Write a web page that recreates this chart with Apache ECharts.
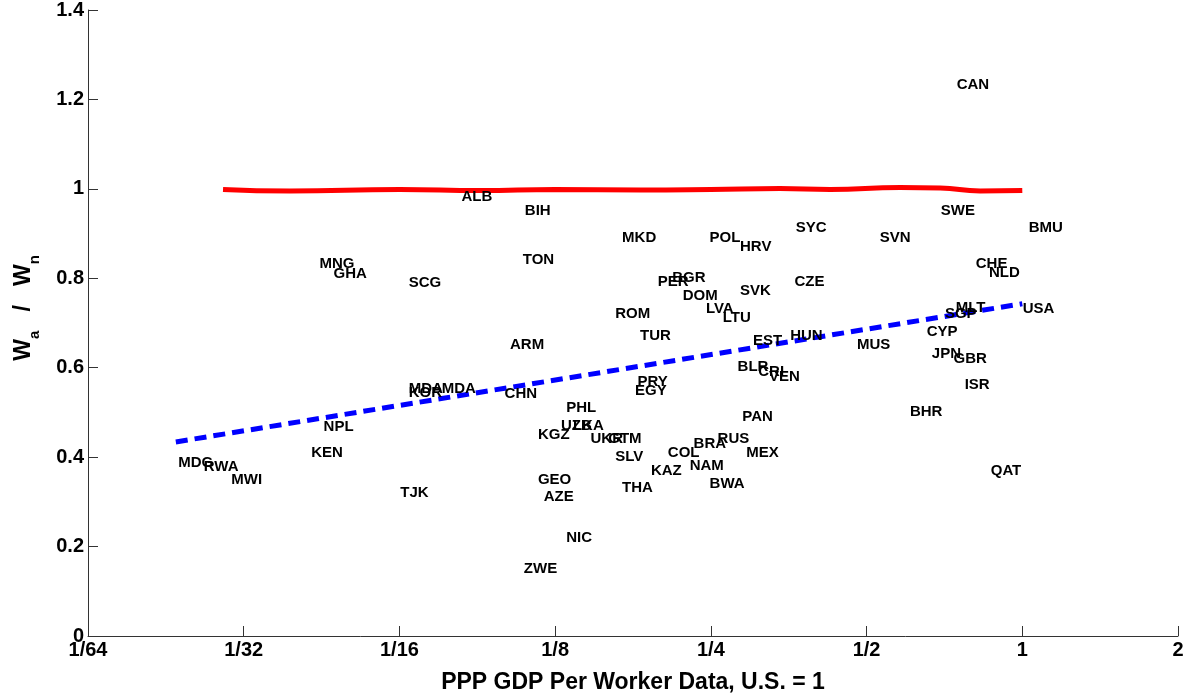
<!DOCTYPE html>
<html>
<head>
<meta charset="utf-8">
<script src="https://cdn.jsdelivr.net/npm/echarts@6/dist/echarts.min.js"></script>
<style>
html,body{margin:0;padding:0;background:#fff;}
#chart{width:1199px;height:698px;}
</style>
</head>
<body>
<div id="chart"></div>
<script>
// Country codes, PPP GDP per worker (U.S. = 1), and W_a / W_n
const codes = ["CAN","ALB","BIH","MKD","POL","HRV","TON","PER","BGR","DOM","SVK","LVA","LTU","ROM","TUR","ARM","EST","BLR","CRI","VEN","HUN","SYC","CZE","SVN","SWE","BMU","CHE","NLD","MLT","SGP","USA","CYP","MUS","JPN","GBR","ISR","BHR","QAT","PAN","MEX","RUS","BRA","COL","NAM","KAZ","BWA","THA","SLV","UKR","GTM","UZB","LKA","KGZ","PHL","PRY","EGY","CHN","GEO","AZE","NIC","ZWE","MNG","GHA","SCG","NPL","KEN","MDG","RWA","MWI","TJK","KOR","MDA","MDA"];
const gdpRatio = [0.745,0.0822,0.109,0.168,0.248,0.284,0.108,0.197,0.210,0.220,0.284,0.244,0.263,0.163,0.182,0.102,0.301,0.281,0.308,0.323,0.355,0.364,0.362,0.529,0.694,1.027,0.811,0.860,0.742,0.707,1.000,0.652,0.478,0.667,0.735,0.772,0.605,0.867,0.287,0.292,0.257,0.231,0.206,0.227,0.191,0.248,0.168,0.163,0.146,0.158,0.128,0.135,0.1155,0.131,0.180,0.178,0.0996,0.1155,0.1185,0.131,0.1085,0.0437,0.0465,0.0650,0.0445,0.0421,0.0233,0.0261,0.0295,0.0626,0.0650,0.0650,0.0753];
const wageRatio = [1.232,0.982,0.951,0.890,0.890,0.870,0.841,0.792,0.801,0.760,0.772,0.731,0.711,0.720,0.671,0.651,0.660,0.602,0.590,0.579,0.671,0.913,0.792,0.890,0.951,0.913,0.832,0.812,0.734,0.720,0.731,0.680,0.651,0.631,0.620,0.561,0.501,0.369,0.490,0.409,0.441,0.429,0.409,0.380,0.369,0.340,0.331,0.400,0.441,0.441,0.470,0.470,0.450,0.510,0.568,0.548,0.541,0.349,0.311,0.219,0.150,0.832,0.810,0.790,0.467,0.409,0.387,0.378,0.349,0.320,0.543,0.552,0.552];

// Red (near 1) line
const redX = [0.0285,0.0384,0.0626,0.0895,0.125,0.183,0.250,0.340,0.425,0.581,0.694,0.829,1.0];
const redY = [0.9987,0.9953,0.9987,0.9964,0.9987,0.9975,0.9987,1.0009,0.9987,1.0031,1.002,0.9953,0.9964];

// Blue dashed fitted line
const trendX = [0.0231,1.0];
const trendY = [0.434,0.743];

// Axis ticks
const xTickLabels = ["1/64","1/32","1/16","1/8","1/4","1/2","1","2"];
const yTicks = [0,0.2,0.4,0.6,0.8,1,1.2,1.4];

const FONT = '"Liberation Sans", Arial, Helvetica, sans-serif';
const chart = echarts.init(document.getElementById('chart'), null, {renderer:'canvas'});

const xLabelFor = v => {
  const e = Math.round(Math.log2(v));
  return xTickLabels[e + 6];
};

chart.setOption({
  animation:false,
  backgroundColor:'#fff',
  grid:{left:88,right:21,top:10,bottom:62,containLabel:false,outerBoundsMode:'none'},
  xAxis:{
    type:'log', logBase:2, min:1/64, max:2, splitNumber:7,
    name:'PPP GDP Per Worker Data, U.S. = 1',
    nameLocation:'middle', nameGap:35,
    nameTextStyle:{fontFamily:FONT,fontWeight:'bold',fontSize:23,color:'#000'},
    axisLine:{show:true,lineStyle:{color:'#333',width:1}},
    axisTick:{show:true,inside:true,length:10,lineStyle:{color:'#333'}},
    axisLabel:{show:true,margin:4,fontFamily:FONT,fontWeight:'bold',fontSize:20,color:'#000',formatter:xLabelFor,showMinLabel:true,showMaxLabel:true},
    splitLine:{show:false},
    minorTick:{show:false}
  },
  yAxis:{
    type:'value', min:0, max:1.4, interval:0.2,
    name:'{w|W}{s|a}{w|   /   W}{s|n}',
    nameLocation:'middle', nameGap:46, nameRotate:90,
    nameTextStyle:{
      fontFamily:FONT,fontWeight:'bold',fontSize:23,color:'#000',padding:[0,0,0,30],
      rich:{
        w:{fontFamily:FONT,fontWeight:'bold',fontSize:23,color:'#000',lineHeight:22,verticalAlign:'top'},
        s:{fontFamily:FONT,fontWeight:'bold',fontSize:15,color:'#000',lineHeight:30,verticalAlign:'bottom'}
      }
    },
    axisLine:{show:true,lineStyle:{color:'#333',width:1}},
    axisTick:{show:true,inside:true,length:10,lineStyle:{color:'#333'}},
    axisLabel:{show:true,margin:4,fontFamily:FONT,fontWeight:'bold',fontSize:20,color:'#000',
      formatter:v=>{ const r=Math.round(v*10)/10; return String(r); }},
    splitLine:{show:false}
  },
  series:[
    {
      type:'line', data:redX.map((x,i)=>[x,redY[i]]), smooth:true, showSymbol:false, symbol:'none',
      lineStyle:{color:'#ff0000',width:5}, z:2, silent:true
    },
    {
      type:'line', data:trendX.map((x,i)=>[x,trendY[i]]), showSymbol:false, symbol:'none',
      lineStyle:{color:'#0000ff',width:5,type:[12,7]}, z:2, silent:true
    },
    {
      type:'scatter', symbolSize:1, itemStyle:{color:'rgba(0,0,0,0)'}, z:5, silent:true,
      data:codes.map((c,i)=>({name:c,value:[gdpRatio[i],wageRatio[i]]})),
      label:{show:true,position:'right',distance:0,padding:[4,0,0,0],formatter:p=>p.name,
        fontFamily:FONT,fontWeight:'bold',fontSize:15,color:'#000',opacity:1},
      labelLayout:{hideOverlap:false}
    }
  ]
});
</script>
</body>
</html>
